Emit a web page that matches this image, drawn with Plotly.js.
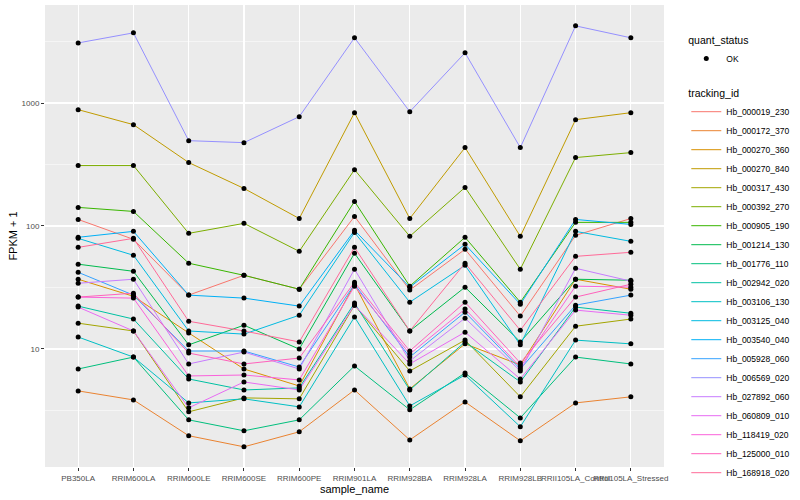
<!DOCTYPE html>
<html>
<head>
<meta charset="utf-8">
<script src="https://cdn.plot.ly/plotly-3.0.1.min.js"></script>
<style>html,body{margin:0;padding:0;background:#fff;}#chart{width:800px;height:500px;}</style>
</head>
<body>
<div id="chart"></div>
<script>
// Categories (x axis)
const samples = ["PB350LA","RRIM600LA","RRIM600LE","RRIM600SE","RRIM600PE","RRIM901LA","RRIM928BA","RRIM928LA","RRIM928LB","RRII105LA_Control","RRII105LA_Stressed"];

// Series names (tracking_id) and colours
const trackingIds = ["Hb_000019_230","Hb_000172_370","Hb_000270_360","Hb_000270_840","Hb_000317_430","Hb_000392_270","Hb_000905_190","Hb_001214_130","Hb_001776_110","Hb_002942_020","Hb_003106_130","Hb_003125_040","Hb_003540_040","Hb_005928_060","Hb_006569_020","Hb_027892_060","Hb_060809_010","Hb_118419_020","Hb_125000_010","Hb_168918_020"];
const colors = ["#F8766D","#EA8331","#D89000","#C09B00","#A3A500","#7CAE00","#39B600","#00BB4E","#00BF7D","#00C1A3","#00BFC4","#00BAE0","#00B0F6","#35A2FF","#9590FF","#C77CFF","#E76BF3","#FA62DB","#FF62BC","#FF6A98"];

// FPKM + 1 values per series (order of samples)
const Hb_000019_230 = [113, 77.9, 27.4, 39.7, 30.6, 119.6, 30.1, 64.6, 18.5, 83.9, 115];
const Hb_000172_370 = [4.56, 3.85, 1.97, 1.60, 2.12, 4.64, 1.82, 3.71, 1.79, 3.64, 4.08];
const Hb_000270_360 = [36.9, 26.8, 13.5, 6.87, 5.00, 33.6, 4.73, 11.0, 7.41, 36.9, 30.6];
const Hb_000270_840 = [883, 667, 328, 202, 115, 834, 115, 434, 82.4, 732, 834];
const Hb_000317_430 = [16.2, 14.0, 3.08, 4.00, 3.93, 22.7, 6.62, 11.8, 4.08, 15.3, 17.5];
const Hb_000392_270 = [310, 310, 87.1, 105, 62.2, 287, 82.4, 206, 44.5, 360, 395];
const Hb_000905_190 = [141.6, 131.3, 49.8, 39.7, 30.6, 158.5, 32.4, 80.9, 24.0, 107, 107];
const Hb_001214_130 = [48.9, 42.8, 10.8, 15.6, 9.98, 60.0, 14.0, 31.8, 11.4, 36.9, 36.2];
const Hb_001776_110 = [6.87, 8.59, 2.65, 2.16, 2.65, 7.27, 3.20, 6.38, 2.75, 8.59, 7.55];
const Hb_002942_020 = [22.3, 17.5, 5.70, 4.64, 4.82, 23.6, 4.64, 11.4, 5.39, 21.9, 19.5];
const Hb_003106_130 = [12.5, 8.59, 3.64, 3.93, 3.38, 18.2, 3.44, 6.14, 2.33, 11.8, 11.0];
const Hb_003125_040 = [79.3, 57.8, 14.0, 13.2, 18.8, 88.7, 24.0, 47.9, 10.8, 90.4, 75.0];
const Hb_003540_040 = [80.9, 90.4, 27.4, 25.9, 22.3, 92.1, 31.8, 70.9, 23.1, 113, 103];
const Hb_005928_060 = [42.0, 27.4, 9.62, 9.62, 7.13, 33.6, 8.59, 19.9, 6.87, 22.7, 27.4];
const Hb_006569_020 = [3080, 3720, 494, 476, 774, 3390, 850, 2560, 434, 4240, 3390];
const Hb_027892_060 = [34.2, 36.9, 7.55, 9.44, 6.87, 44.5, 7.98, 17.8, 6.62, 45.3, 35.6];
const Hb_060809_010 = [21.9, 14.0, 3.32, 5.39, 4.64, 22.7, 7.55, 13.7, 5.70, 20.7, 18.8];
const Hb_118419_020 = [26.4, 25.9, 6.03, 6.14, 5.60, 32.4, 9.10, 21.1, 7.13, 32.4, 31.8];
const Hb_125000_010 = [26.4, 28.4, 9.26, 7.55, 8.43, 34.9, 9.62, 24.0, 7.69, 26.4, 33.6];
const Hb_168918_020 = [67.0, 79.3, 16.8, 14.0, 11.4, 67.0, 14.0, 49.8, 14.2, 56.6, 61.1];

const seriesValues = [Hb_000019_230, Hb_000172_370, Hb_000270_360, Hb_000270_840, Hb_000317_430, Hb_000392_270, Hb_000905_190, Hb_001214_130, Hb_001776_110, Hb_002942_020, Hb_003106_130, Hb_003125_040, Hb_003540_040, Hb_005928_060, Hb_006569_020, Hb_027892_060, Hb_060809_010, Hb_118419_020, Hb_125000_010, Hb_168918_020];

const yTicks = [10, 100, 1000];
const yMinor = [3.1623, 31.623, 316.23, 3162.3];

const font = "Liberation Sans, Arial, Helvetica, sans-serif";
const traces = [];
seriesValues.forEach((vals, i) => {
  traces.push({
    type: "scatter", mode: "lines",
    x: samples, y: vals, name: trackingIds[i],
    line: {color: colors[i], width: 1},
    legend: "legend2",
    hoverinfo: "name+y"
  });
});
const allX = [], allY = [];
seriesValues.forEach(vals => { vals.forEach((v, j) => { allX.push(samples[j]); allY.push(v); }); });
traces.push({
  type: "scatter", mode: "markers", x: allX, y: allY, name: "OK",
  marker: {color: "#000000", size: 5},
  legend: "legend", showlegend: true
});

const layout = {
  width: 800, height: 500,
  paper_bgcolor: "#FFFFFF", plot_bgcolor: "#EBEBEB",
  margin: {l: 45, r: 117, t: 5, b: 33},
  font: {family: font, color: "#000"},
  showlegend: true,
  xaxis: {
    type: "category", range: [-0.6, 10.6],
    showgrid: true, gridcolor: "#FFFFFF", gridwidth: 1.1,
    zeroline: false, showline: false,
    ticks: "outside", ticklen: 3, tickcolor: "#333333", tickwidth: 1,
    tickangle: 0, tickfont: {size: 8, color: "#4D4D4D", family: font},
    title: {text: "sample_name", font: {size: 11, color: "#000", family: font}, standoff: 1}
  },
  yaxis: {
    type: "log", range: [0.04, 3.797],
    tickmode: "array", tickvals: yTicks, ticktext: yTicks.map(String),
    showgrid: true, gridcolor: "#FFFFFF", gridwidth: 1.1,
    zeroline: false, showline: false,
    ticks: "outside", ticklen: 3, tickcolor: "#333333", tickwidth: 1,
    tickfont: {size: 8, color: "#4D4D4D", family: font},
    minor: {tickmode: "array", tickvals: yMinor, showgrid: true, gridcolor: "#FFFFFF", gridwidth: 0.5, ticks: ""},
    title: {text: "FPKM + 1", font: {size: 11, color: "#000", family: font}, standoff: 1}
  },
  legend: {
    x: 1.036, xanchor: "left", y: 0.945, yanchor: "top",
    bgcolor: "rgba(0,0,0,0)", font: {size: 8.5, family: font},
    title: {text: "quant_status", font: {size: 10.5, family: font}},
    itemwidth: 30
  },
  legend2: {
    x: 1.036, xanchor: "left", y: 0.83, yanchor: "top",
    bgcolor: "rgba(0,0,0,0)", font: {size: 8.5, family: font},
    title: {text: "tracking_id", font: {size: 10.5, family: font}},
    itemwidth: 30, tracegroupgap: 0
  }
};

Plotly.newPlot("chart", traces, layout, {staticPlot: true, displayModeBar: false});
</script>
</body>
</html>
